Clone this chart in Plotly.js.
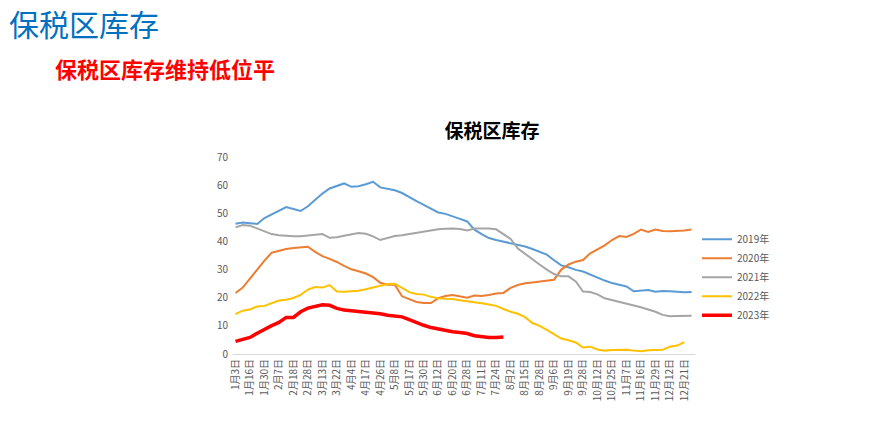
<!DOCTYPE html>
<html>
<head>
<meta charset="utf-8">
<script src="https://cdn.plot.ly/plotly-3.0.1.min.js"></script>
<style>
html,body{margin:0;padding:0;background:#fff;}
#chart{width:875px;height:428px;}
</style>
</head>
<body>
<div id="chart"></div>
<script>
// Tick labels (every other data point is labelled)
const tickLabels = ["1月3日","1月16日","1月30日","2月7日","2月18日","2月28日","3月13日","3月22日","4月4日","4月17日","4月26日","5月8日","5月17日","5月30日","6月12日","6月20日","6月28日","7月11日","7月24日","8月2日","8月15日","8月28日","9月6日","9月19日","9月28日","10月12日","10月25日","11月7日","11月16日","11月29日","12月12日","12月21日"];

const seriesNames = ["2019年","2020年","2021年","2022年","2023年"];

const y2019 = [46.3,46.7,46.5,46.2,48.3,49.7,51.0,52.2,51.5,50.8,52.5,54.8,57.0,58.8,59.8,60.6,59.4,59.6,60.3,61.2,59.2,58.8,58.2,57.2,55.6,54.3,53.0,51.5,50.3,49.8,49.0,48.0,47.1,44.2,42.6,41.2,40.5,39.9,39.3,38.8,38.2,37.3,36.3,35.3,33.3,31.5,30.8,29.9,29.3,28.2,27.1,26.1,25.2,24.6,24.0,22.3,22.6,22.7,22.1,22.4,22.3,22.1,21.9,22.0];
const y2020 = [21.7,23.6,26.8,30.2,33.2,36.0,36.7,37.3,37.7,38.0,38.1,36.3,34.8,33.8,32.7,31.3,30.1,29.4,28.6,27.3,25.3,24.6,24.6,20.5,19.4,18.5,18.1,18.1,19.8,20.6,21.0,20.5,20.0,20.8,20.6,21.0,21.5,21.7,23.5,24.5,25.1,25.4,25.7,26.0,26.4,30.0,31.8,32.8,33.4,35.8,37.1,38.6,40.5,41.9,41.6,42.7,44.2,43.4,44.2,43.7,43.6,43.7,43.9,44.2];
const y2021 = [45.0,45.8,45.6,44.6,43.4,42.6,42.2,41.9,41.8,41.8,42.1,42.3,42.6,41.3,41.5,42.0,42.6,43.0,42.7,41.8,40.5,41.3,41.9,42.2,42.6,43.1,43.6,44.0,44.3,44.5,44.6,44.4,43.9,44.6,44.6,44.6,44.3,42.6,40.9,37.5,35.5,33.8,31.8,30.0,28.4,27.6,27.6,25.8,22.2,22.0,21.2,19.8,19.2,18.5,17.9,17.2,16.6,15.8,15.0,13.9,13.4,13.5,13.6,13.6];
const y2022 = [14.2,15.4,15.8,16.9,17.1,18.0,19.0,19.3,19.9,21.0,22.9,23.8,23.6,24.5,22.2,22.1,22.2,22.5,23.0,23.6,24.3,24.9,25.0,23.6,22.0,21.3,21.1,20.3,19.8,19.6,19.5,19.1,18.8,18.3,18.0,17.6,17.1,16.0,15.0,14.3,13.1,11.0,10.0,8.6,7.0,5.5,4.9,4.1,2.3,2.6,1.6,1.2,1.4,1.5,1.5,1.2,1.0,1.3,1.5,1.5,2.6,3.0,4.2];
const y2023 = [4.5,5.2,5.9,7.4,8.9,10.1,11.2,13.0,13.0,15.0,16.3,17.0,17.5,17.3,16.2,15.6,15.4,15.2,15.0,14.6,14.3,13.8,13.6,13.2,12.2,11.1,10.2,9.4,8.8,8.3,7.9,7.6,7.3,6.5,6.1,5.9,5.9,6.0];

const colors = ["#5B9BD5","#ED7D31","#A5A5A5","#FFC000","#FF0000"];
const widths = [2,2,2,2,3.5];
const allY = [y2019,y2020,y2021,y2022,y2023];

const traces = allY.map((ys,k)=>({
  type:'scatter', mode:'lines', name: seriesNames[k],
  x: ys.map((_,i)=>i), y: ys,
  line:{color:colors[k], width:widths[k], shape:'linear'},
  hoverinfo:'skip'
}));

const tickVals = tickLabels.map((_,j)=>j*2);

// plot area pixels
const L=233, R=695, T=157.3, B=354.3;
const W=R-L, H=B-T;
const px = x => (x-L)/W;
const py = y => (B-y)/H;

const layout = {
  width:875, height:428,
  margin:{l:L, r:875-R, t:T, b:428-B, pad:0},
  paper_bgcolor:'#fff', plot_bgcolor:'#fff',
  font:{family:'"Noto Sans CJK SC", "Liberation Sans", sans-serif', color:'#595959', size:10},
  title:{text:'保税区库存', font:{family:'"Noto Sans CJK SC", sans-serif', size:19, color:'#000', weight:'bold'}, x:0.5605, xanchor:'center', y:1-131/428, yanchor:'middle', xref:'paper'},
  showlegend:true,
  legend:{x:px(697), y:py(225), xanchor:'left', yanchor:'top', font:{size:10, color:'#595959'}, bgcolor:'rgba(0,0,0,0)', tracegroupgap:0, itemwidth:30},
  xaxis:{
    range:[(L-235.5)/7.24,(R-235.5)/7.24], tickmode:'array', tickvals:tickVals, ticktext:tickLabels,
    tickangle:-90, tickfont:{size:10,color:'#595959'}, showgrid:false, zeroline:false,
    showline:true, linecolor:'#D9D9D9', linewidth:1, ticks:'', fixedrange:true
  },
  yaxis:{
    range:[0,70], dtick:10, tick0:0, showgrid:false, zeroline:false, showline:false,
    tickfont:{size:10,color:'#595959'}, ticks:'', ticklabelstandoff:4, fixedrange:true
  },
  annotations:[
    {xref:'paper', yref:'paper', x:px(8), y:py(0), xanchor:'left', yanchor:'top', showarrow:false, borderpad:0,
     text:'保税区库存', font:{family:'"Noto Sans CJK SC", sans-serif', size:30, color:'#0070C0'}},
    {xref:'paper', yref:'paper', x:px(53), y:py(68), xanchor:'left', yanchor:'middle', showarrow:false,
     text:'<b>保税区库存维持低位平</b>', font:{family:'"Noto Sans CJK SC", sans-serif', size:22, color:'#FF0000'}}
  ]
};

Plotly.newPlot('chart', traces, layout, {displayModeBar:false, staticPlot:true});
</script>
</body>
</html>
